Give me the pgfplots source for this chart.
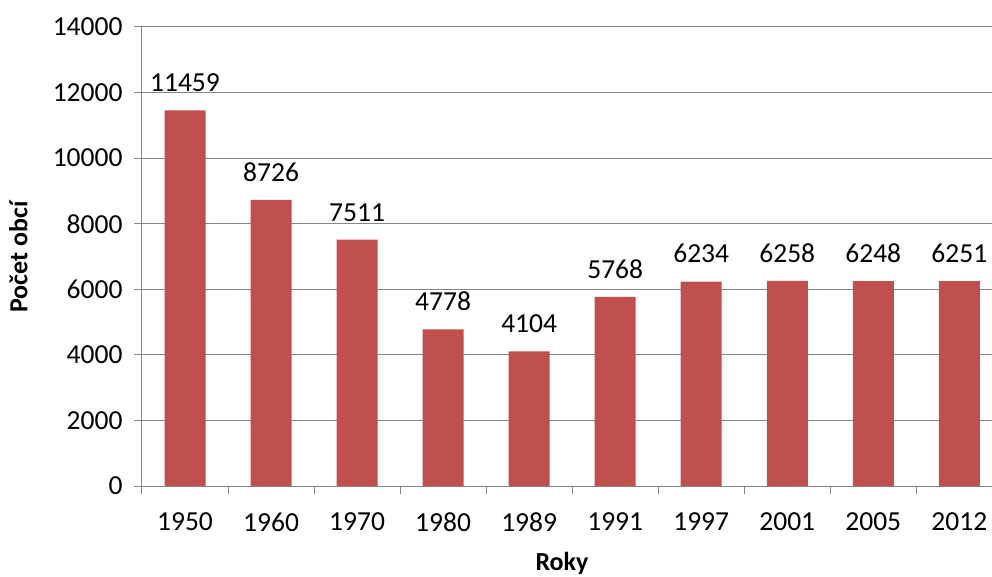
\documentclass[border=0pt]{standalone}
\usepackage{pgfplots}
\pgfplotsset{compat=1.18}
\usepackage{fontspec}
\setmainfont{Carlito}
\definecolor{barred}{HTML}{C0504D}
\definecolor{gridgray}{HTML}{868686}
\begin{document}
\begin{tikzpicture}[x=1pt,y=1pt]
\path[use as bounding box] (-142,-90) rectangle (850,486);
\begin{axis}[
  scale only axis,
  width=850pt, height=459pt,
  at={(0,0)}, anchor=south west,
  ymin=0, ymax=14000,
  ytick={0,2000,...,14000},
  xmin=-0.5, xmax=9.38,
  xtick={-0.5,0.5,...,8.5},
  xticklabels={},
  extra x ticks={0,1,2,3,4,5,6,7,8,9},
  extra x tick labels={1950,1960,1970,1980,1989,1991,1997,2001,2005,2012},
  extra x tick style={major tick length=0pt, grid=none,
    xticklabel style={yshift=-23pt}},
  axis x line*=bottom, axis y line*=left,
  axis line style={gridgray, line width=1pt, -},
  tick style={gridgray, line width=1pt},
  major tick length=8pt,
  tick align=outside,
  ymajorgrids, grid style={gridgray, line width=1pt},
  /pgf/number format/assume math mode=true,
  scaled y ticks=false,
  yticklabel style={/pgf/number format/1000 sep={}, xshift=-8pt},
  ticklabel style={font=\fontsize{27.5}{32}\selectfont, text=black},
  ylabel={\textbf{Počet obcí}},
  xlabel={\textbf{Roky}},
  label style={font=\fontsize{26}{30}\selectfont},
  ylabel style={at={(axis description cs:0,0.5)}, anchor=south, xshift=0pt, yshift=111pt},
  xlabel style={at={(axis description cs:0.5,0)}, anchor=north, yshift=-63pt, xshift=-5pt},
  ybar, bar width=41pt,
  nodes near coords,
  nodes near coords style={font=\fontsize{27.5}{32}\selectfont, text=black, /pgf/number format/1000 sep={}, yshift=15pt},
  clip=false,
]
\addplot[fill=barred, draw=none] coordinates {
(0,11459) (1,8726) (2,7511) (3,4778) (4,4104) (5,5768) (6,6234) (7,6258) (8,6248) (9,6251)
};
\end{axis}
\end{tikzpicture}
\end{document}
